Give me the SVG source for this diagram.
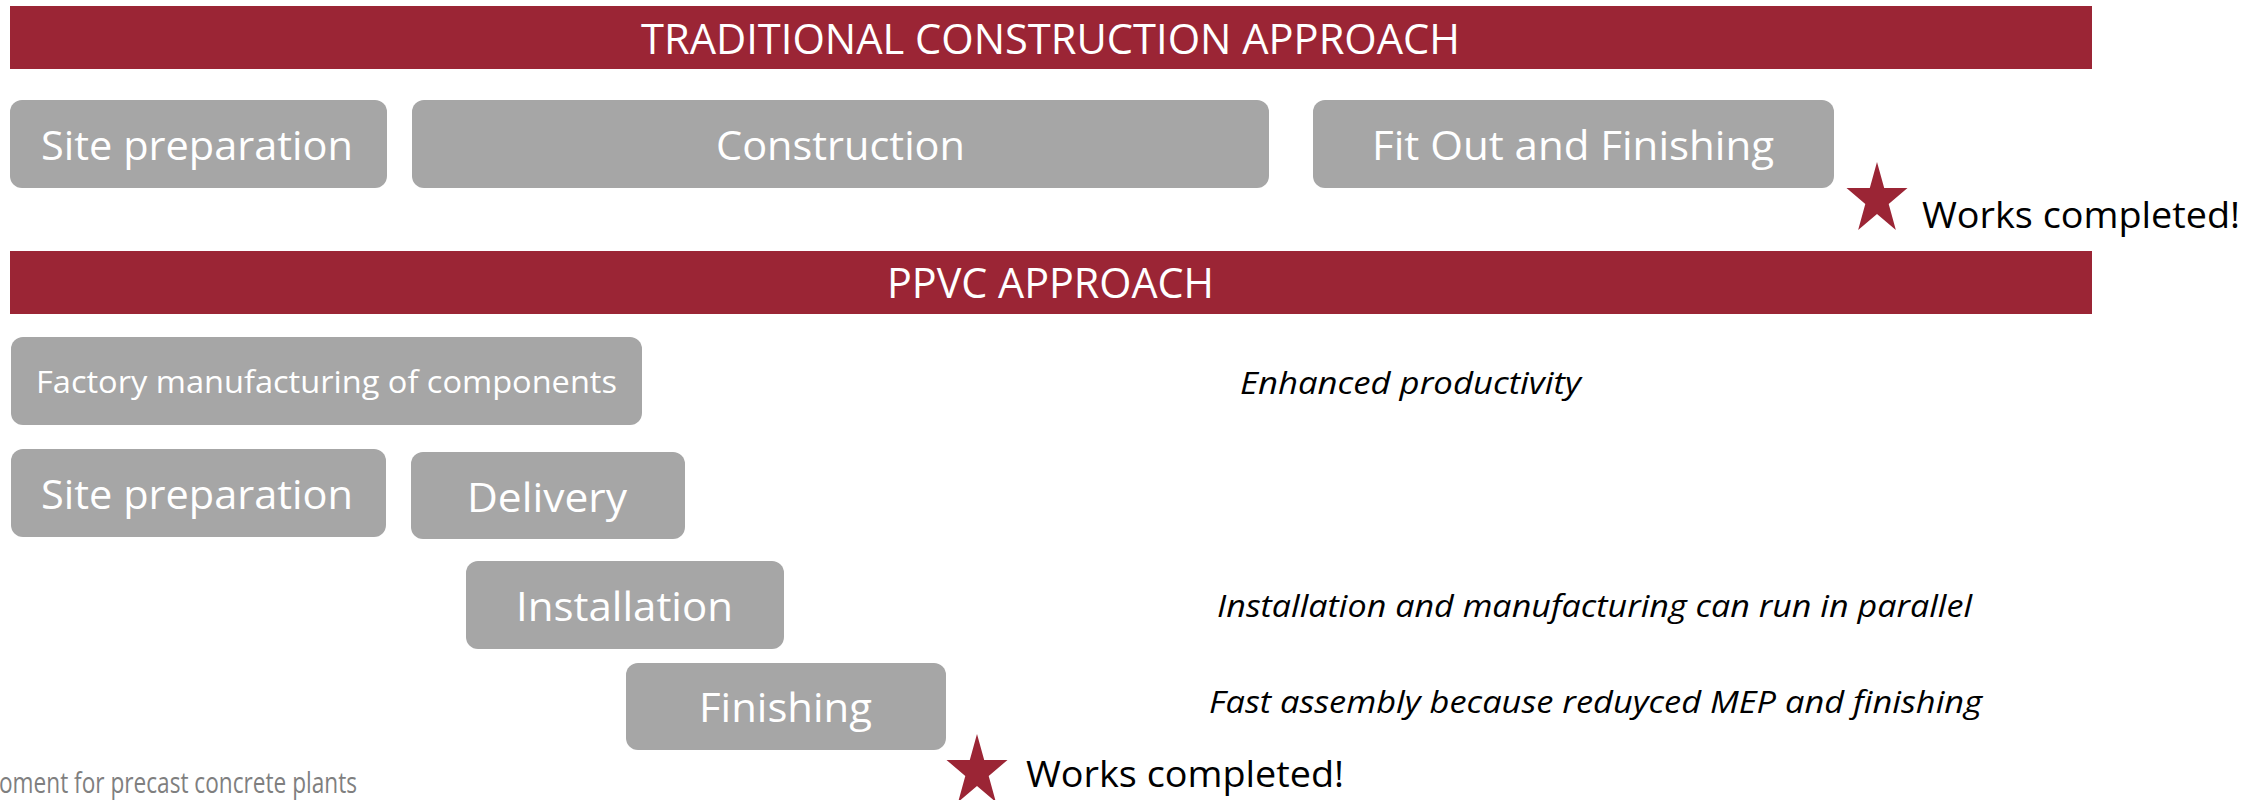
<svg xmlns="http://www.w3.org/2000/svg" width="2245" height="800" viewBox="0 0 2245 800">
  <defs>
    <style>
      .bar { fill: #9b2535; }
      .box { fill: #a6a6a6; }
      .bar-text { font-family: "Open Sans", "Liberation Sans", sans-serif; font-size: 42px; fill: #ffffff; }
      .box-text { font-family: "Open Sans", "Liberation Sans", sans-serif; font-size: 41px; fill: #ffffff; }
      .box-text-small { font-family: "Open Sans", "Liberation Sans", sans-serif; font-size: 31px; fill: #ffffff; }
      .done-text { font-family: "Open Sans", "Liberation Sans", sans-serif; font-size: 36px; fill: #000000; }
      .note { font-family: "Open Sans", "Liberation Sans", sans-serif; font-size: 31px; font-style: italic; fill: #000000; }
      .footer { font-family: "Open Sans", "Liberation Sans", sans-serif; font-size: 29px; fill: #7f7f7f; }
      .star { fill: #9b2535; }
    </style>
    <!-- five-point star, slightly narrowed, centred on its own origin -->
    <polygon id="star" class="star" points="0,-37.6 7.2,-11.65 30.5,-11.62 11.7,4.45 18.85,30.42 0,14.4 -18.85,30.42 -11.7,4.45 -30.5,-11.62 -7.2,-11.65"/>
  </defs>

  <rect width="2245" height="800" fill="#ffffff"/>

  <!-- Traditional approach -->
  <g id="traditional-header">
    <rect class="bar" x="10" y="6" width="2082" height="63"/>
    <text class="bar-text" x="641" y="54" textLength="819" lengthAdjust="spacingAndGlyphs">TRADITIONAL CONSTRUCTION APPROACH</text>
  </g>
  <g id="trad-site-preparation">
    <rect class="box" x="10" y="100" width="377" height="88" rx="12"/>
    <text class="box-text" x="41" y="160" textLength="312" lengthAdjust="spacingAndGlyphs">Site preparation</text>
  </g>
  <g id="trad-construction">
    <rect class="box" x="412" y="100" width="857" height="88" rx="12"/>
    <text class="box-text" x="716" y="160" textLength="249" lengthAdjust="spacingAndGlyphs">Construction</text>
  </g>
  <g id="trad-fit-out">
    <rect class="box" x="1313" y="100" width="521" height="88" rx="12"/>
    <text class="box-text" x="1372" y="160" textLength="402" lengthAdjust="spacingAndGlyphs">Fit Out and Finishing</text>
  </g>
  <g id="trad-completed">
    <use href="#star" x="1877" y="199.6"/>
    <text class="done-text" x="1922" y="228" textLength="318" lengthAdjust="spacingAndGlyphs">Works completed!</text>
  </g>

  <!-- PPVC approach -->
  <g id="ppvc-header">
    <rect class="bar" x="10" y="251" width="2082" height="63"/>
    <text class="bar-text" x="887" y="298" textLength="327" lengthAdjust="spacingAndGlyphs">PPVC APPROACH</text>
  </g>
  <g id="ppvc-factory">
    <rect class="box" x="11" y="337" width="631" height="88" rx="12"/>
    <text class="box-text-small" x="36" y="393" textLength="581" lengthAdjust="spacingAndGlyphs">Factory manufacturing of components</text>
  </g>
  <g id="ppvc-site-preparation">
    <rect class="box" x="11" y="449" width="375" height="88" rx="12"/>
    <text class="box-text" x="41" y="509" textLength="312" lengthAdjust="spacingAndGlyphs">Site preparation</text>
  </g>
  <g id="ppvc-delivery">
    <rect class="box" x="411" y="452" width="274" height="87" rx="12"/>
    <text class="box-text" x="467" y="512" textLength="160" lengthAdjust="spacingAndGlyphs">Delivery</text>
  </g>
  <g id="ppvc-installation">
    <rect class="box" x="466" y="561" width="318" height="88" rx="12"/>
    <text class="box-text" x="516" y="621" textLength="217" lengthAdjust="spacingAndGlyphs">Installation</text>
  </g>
  <g id="ppvc-finishing">
    <rect class="box" x="626" y="663" width="320" height="87" rx="12"/>
    <text class="box-text" x="699" y="722" textLength="173" lengthAdjust="spacingAndGlyphs">Finishing</text>
  </g>
  <g id="ppvc-completed">
    <use href="#star" x="977" y="771.6"/>
    <text class="done-text" x="1026" y="787" textLength="318" lengthAdjust="spacingAndGlyphs">Works completed!</text>
  </g>

  <!-- Benefit notes -->
  <g id="note-productivity">
    <text class="note" x="1240" y="394" textLength="341" lengthAdjust="spacingAndGlyphs">Enhanced productivity</text>
  </g>
  <g id="note-parallel">
    <text class="note" x="1217" y="617" textLength="755" lengthAdjust="spacingAndGlyphs">Installation and manufacturing can run in parallel</text>
  </g>
  <g id="note-assembly">
    <text class="note" x="1209" y="713" textLength="773" lengthAdjust="spacingAndGlyphs">Fast assembly because reduyced MEP and finishing</text>
  </g>

  <!-- Source line along the bottom edge -->
  <text class="footer" x="-1" y="793" textLength="358" lengthAdjust="spacingAndGlyphs">oment for precast concrete plants</text>
</svg>
